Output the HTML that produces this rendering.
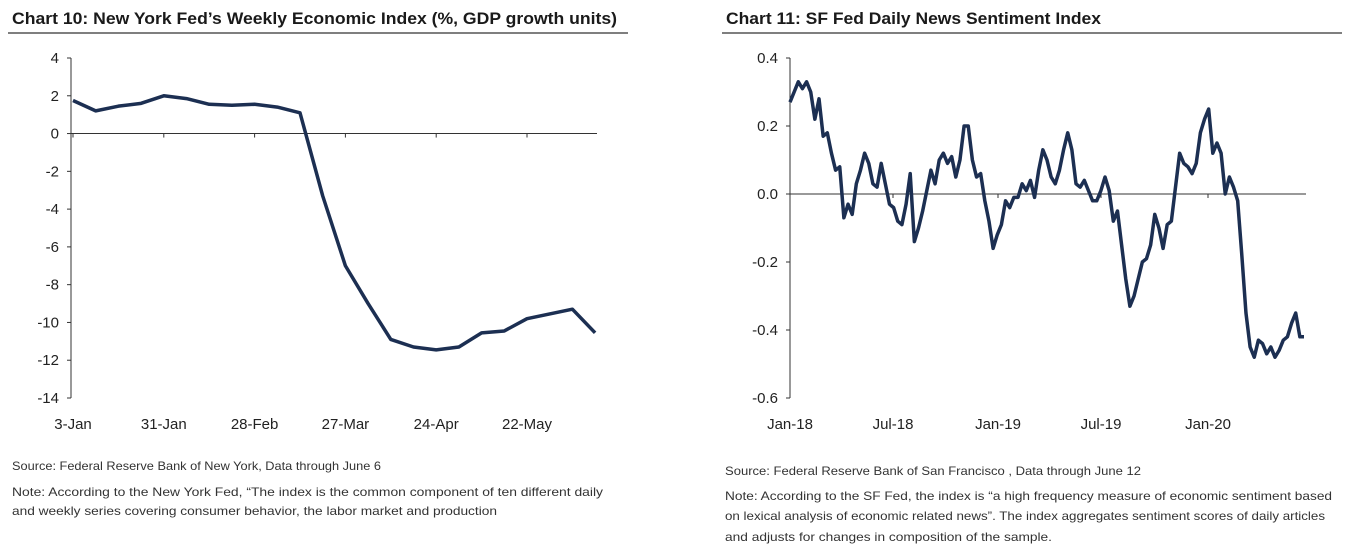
<!DOCTYPE html>
<html><head><meta charset="utf-8"><style>
body{margin:0;background:#fff;width:1346px;height:554px;overflow:hidden;font-family:"Liberation Sans Narrow","Liberation Sans",sans-serif}
svg{position:absolute;left:0;top:0}
.t{font-weight:bold;font-size:17px;fill:#1a1a1a}
.tk{font-size:15px;fill:#222}
.n{font-size:12px;fill:#333}
</style></head><body>
<svg width="1346" height="554">
<text class="t" x="12" y="24" textLength="605" lengthAdjust="spacingAndGlyphs">Chart 10: New York Fed’s Weekly Economic Index (%, GDP growth units)</text>
<line x1="8" y1="33" x2="628" y2="33" stroke="#555" stroke-width="1.5"/>
<text class="t" x="726" y="24" textLength="375" lengthAdjust="spacingAndGlyphs">Chart 11: SF Fed Daily News Sentiment Index</text>
<line x1="722" y1="33" x2="1342" y2="33" stroke="#555" stroke-width="1.5"/>
<g id="c1"></g>
<g id="c2"></g>
<text class="n" x="12" y="470" textLength="369" lengthAdjust="spacingAndGlyphs">Source: Federal Reserve Bank of New York, Data through June 6</text>
<text class="n" x="12" y="496" textLength="591" lengthAdjust="spacingAndGlyphs">Note: According to the New York Fed, “The index is the common component of ten different daily</text>
<text class="n" x="12" y="515" textLength="485" lengthAdjust="spacingAndGlyphs">and weekly series covering consumer behavior, the labor market and production</text>
<text class="n" x="725" y="475" textLength="416" lengthAdjust="spacingAndGlyphs">Source: Federal Reserve Bank of San Francisco , Data through June 12</text>
<text class="n" x="725" y="500" textLength="607" lengthAdjust="spacingAndGlyphs">Note: According to the SF Fed, the index is “a high frequency measure of economic sentiment based</text>
<text class="n" x="725" y="520" textLength="600" lengthAdjust="spacingAndGlyphs">on lexical analysis of economic related news”. The index aggregates sentiment scores of daily articles</text>
<text class="n" x="725" y="541" textLength="327" lengthAdjust="spacingAndGlyphs">and adjusts for changes in composition of the sample.</text>
</svg>
<script>
const ny_yticks=[4,2,0,-2,-4,-6,-8,-10,-12,-14];
const ny_xlabels=["3-Jan","31-Jan","28-Feb","27-Mar","24-Apr","22-May"];
const ny_values=[1.75,1.2,1.45,1.6,2.0,1.85,1.55,1.5,1.55,1.4,1.1,-3.3,-7.0,-9.0,-10.9,-11.3,-11.45,-11.3,-10.55,-10.45,-9.8,-9.55,-9.3,-10.55];
const sf_yticks=[0.4,0.2,0.0,-0.2,-0.4,-0.6];
const sf_xlabels=["Jan-18","Jul-18","Jan-19","Jul-19","Jan-20"];
const sf_values=[0.27,0.30,0.33,0.31,0.33,0.30,0.22,0.28,0.17,0.18,0.12,0.07,0.08,-0.07,-0.03,-0.06,0.03,0.07,0.12,0.09,0.03,0.02,0.09,0.03,-0.03,-0.04,-0.08,-0.09,-0.03,0.06,-0.14,-0.10,-0.05,0.01,0.07,0.03,0.10,0.12,0.09,0.11,0.05,0.10,0.20,0.20,0.10,0.05,0.06,-0.02,-0.08,-0.16,-0.12,-0.09,-0.02,-0.04,-0.01,-0.01,0.03,0.01,0.04,-0.01,0.07,0.13,0.10,0.05,0.03,0.07,0.13,0.18,0.13,0.03,0.02,0.04,0.01,-0.02,-0.02,0.01,0.05,0.01,-0.08,-0.05,-0.15,-0.25,-0.33,-0.30,-0.25,-0.20,-0.19,-0.15,-0.06,-0.10,-0.16,-0.09,-0.08,0.02,0.12,0.09,0.08,0.06,0.09,0.18,0.22,0.25,0.12,0.15,0.12,0.00,0.05,0.02,-0.02,-0.18,-0.35,-0.45,-0.48,-0.43,-0.44,-0.47,-0.45,-0.48,-0.46,-0.43,-0.42,-0.38,-0.35,-0.42,-0.42];
const NS="http://www.w3.org/2000/svg";
function mk(p,tag,a,txt){const e=document.createElementNS(NS,tag);for(const k in a)e.setAttribute(k,a[k]);if(txt!==undefined)e.textContent=txt;p.appendChild(e);return e;}
// Chart 10
(function(){
const g=document.getElementById('c1');
const x0=71,x1=597,yT=58,yB=398;
const y=v=>yT+(4-v)/18*(yB-yT);
const xi=i=>73+i*22.7;
let e=mk(g,'line',{x1:x0,y1:yT,x2:x0,y2:yB,stroke:'#333','stroke-width':1});

ny_yticks.forEach(v=>{mk(g,'line',{x1:x0-4,y1:y(v),x2:x0,y2:y(v),stroke:'#333'});
 const t=mk(g,'text',{x:x0-12,y:y(v)+5,'text-anchor':'end',class:'tk'},String(v));
 });
e=mk(g,'line',{x1:x0,y1:y(0),x2:x1,y2:y(0),stroke:'#333'});

ny_xlabels.forEach((l,i)=>{const xx=xi(i*4);mk(g,'line',{x1:xx,y1:y(0),x2:xx,y2:y(0)+4,stroke:'#333'});
 const t=mk(g,'text',{x:xx,y:429,'text-anchor':'middle',class:'tk'},l);
 });
const p=mk(g,'polyline',{points:ny_values.map((v,i)=>xi(i)+','+y(v)).join(' '),fill:'none',stroke:'#1c2f52','stroke-width':3.5,'stroke-linejoin':'round'});

})();
// Chart 11
(function(){
const g=document.getElementById('c2');
const x0=790,x1=1306,yT=58,yB=398;
const y=v=>yT+(0.4-v)/1.0*(yB-yT);
const n=sf_values.length;
const xi=i=>790+i*(1304-790)/(n-1);
const mx=[790,893,998,1101,1208];
let e=mk(g,'line',{x1:x0,y1:yT,x2:x0,y2:yB,stroke:'#333'});

sf_yticks.forEach(v=>{mk(g,'line',{x1:x0-4,y1:y(v),x2:x0,y2:y(v),stroke:'#333'});
 const t=mk(g,'text',{x:x0-12,y:y(v)+5,'text-anchor':'end',class:'tk'},v.toFixed(1));
 });
e=mk(g,'line',{x1:x0,y1:y(0),x2:x1,y2:y(0),stroke:'#333'});

sf_xlabels.forEach((l,i)=>{const xx=mx[i];mk(g,'line',{x1:xx,y1:y(0),x2:xx,y2:y(0)+4,stroke:'#333'});
 const t=mk(g,'text',{x:xx,y:429,'text-anchor':'middle',class:'tk'},l);
 });
const p=mk(g,'polyline',{points:sf_values.map((v,i)=>xi(i)+','+y(v)).join(' '),fill:'none',stroke:'#1c2f52','stroke-width':3.5,'stroke-linejoin':'round'});

})();
</script>
</body></html>
